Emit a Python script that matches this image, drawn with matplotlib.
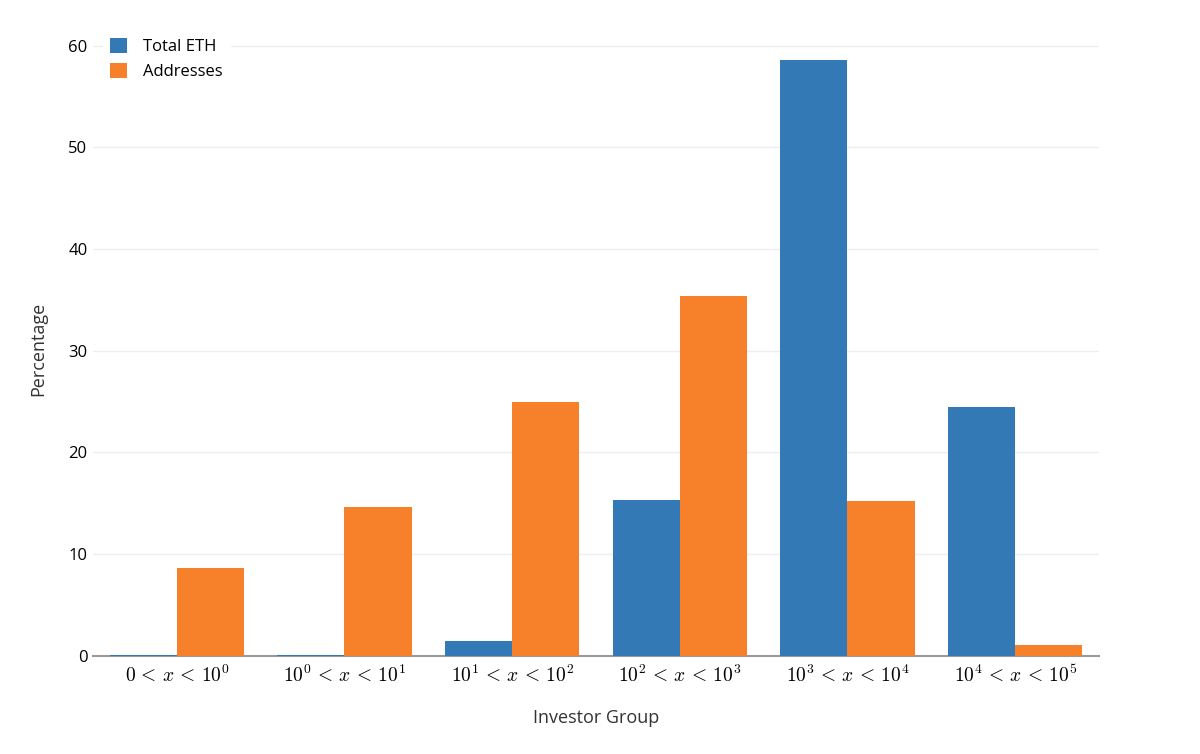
import numpy as np
import matplotlib.pyplot as plt

plt.rcParams['font.family'] = ['Open Sans', 'DejaVu Sans']
plt.rcParams['mathtext.fontset'] = 'cm'

groups = [r'$0\,<\,x\,<\,10^0$', r'$10^0\,<\,x\,<\,10^1$', r'$10^1\,<\,x\,<\,10^2$',
          r'$10^2\,<\,x\,<\,10^3$', r'$10^3\,<\,x\,<\,10^4$', r'$10^4\,<\,x\,<\,10^5$']
total_eth = [0.12, 0.12, 1.45, 15.35, 58.6, 24.5]
addresses = [8.65, 14.65, 25.0, 35.35, 15.2, 1.05]

fig = plt.figure(figsize=(12, 7.54), dpi=100)
ax = fig.add_axes([0.0775, 0.13, 0.8383, 0.815])

x = np.arange(len(groups))
w = 0.4
ax.bar(x - w / 2, total_eth, w, color='#3379b5', label='Total ETH', zorder=4)
ax.bar(x + w / 2, addresses, w, color='#f7812a', label='Addresses', zorder=4)

ax.set_xlim(-0.5, len(groups) - 0.5)
ax.set_ylim(0, 60.4)
ax.set_yticks([0, 10, 20, 30, 40, 50, 60])
ax.set_xticks(x)
ax.set_xticklabels(groups, fontsize=14)
ax.tick_params(axis='y', labelsize=12, length=0, pad=4)
ax.tick_params(axis='x', length=0, pad=6)
ax.grid(axis='y', color='#eeeeee', linewidth=1, zorder=0)
for s in ['top', 'right', 'left']:
    ax.spines[s].set_visible(False)
ax.spines['bottom'].set_color('#999999')
ax.spines['bottom'].set_linewidth(1.5)
ax.spines['bottom'].set_zorder(3)

ax.set_xlabel('Investor Group', fontsize=13, labelpad=17, color='#333333')
ax.set_ylabel('Percentage', fontsize=13, labelpad=15, color='#333333')

leg = ax.legend(loc='upper left', bbox_to_anchor=(0.007, 1.022), frameon=True,
                fontsize=12, handlelength=1.0, handleheight=1.0, handletextpad=1.0,
                labelspacing=0.45, borderaxespad=0.2, fancybox=False)
leg.get_frame().set_facecolor('white')
leg.get_frame().set_edgecolor('white')
leg.get_frame().set_alpha(1)
leg.set_zorder(5)

fig.savefig('out.png', dpi=100, facecolor='white')
